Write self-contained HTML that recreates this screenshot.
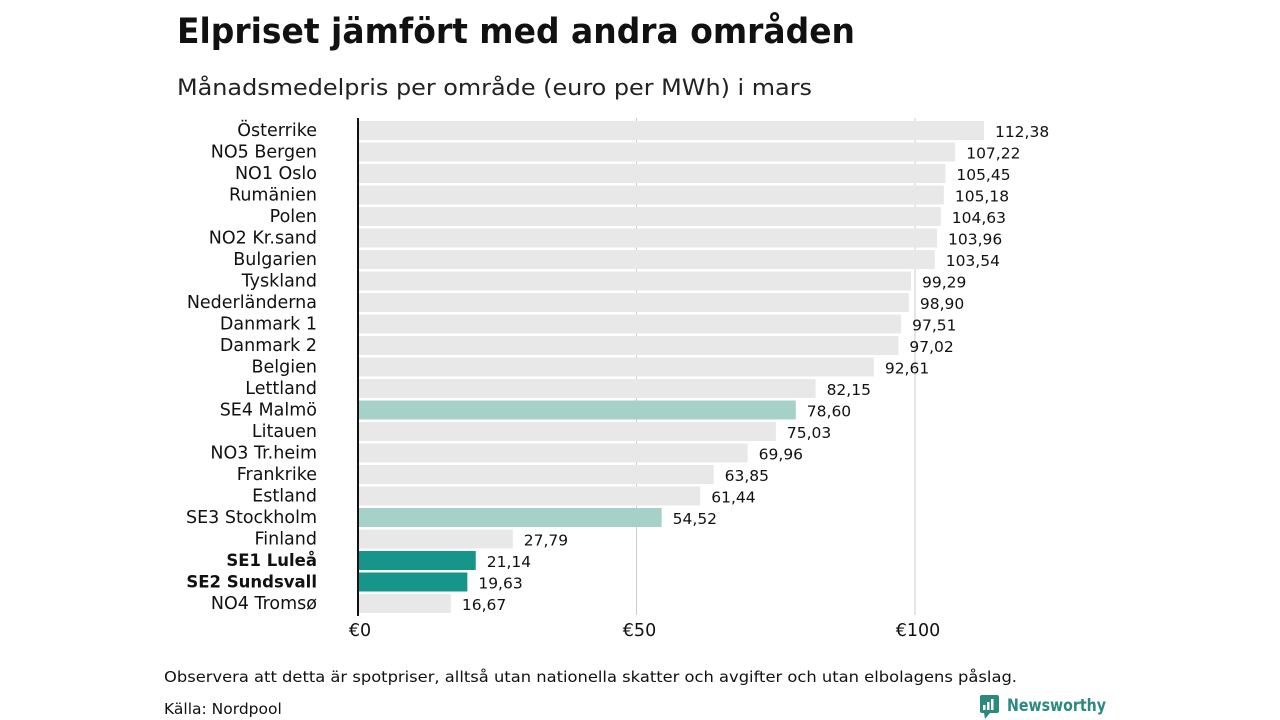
<!DOCTYPE html>
<html><head><meta charset="utf-8"><style>
body{margin:0;width:1280px;height:720px;background:#fff;overflow:hidden;font-family:"DejaVu Sans","Liberation Sans",sans-serif;}
svg{position:absolute;left:0;top:0}
</style></head><body>
<svg id="chart" width="1280" height="720">
<text x="177" y="43" font-size="35" font-weight="bold" fill="#111" textLength="678" lengthAdjust="spacingAndGlyphs">Elpriset jämfört med andra områden</text>
<text x="177" y="95" font-size="22" fill="#222" textLength="635" lengthAdjust="spacingAndGlyphs">Månadsmedelpris per område (euro per MWh) i mars</text>
<text x="164" y="682" font-size="15.5" fill="#111" textLength="853" lengthAdjust="spacingAndGlyphs">Observera att detta är spotpriser, alltså utan nationella skatter och avgifter och utan elbolagens påslag.</text>
<text x="164" y="714" font-size="15.5" fill="#111">Källa: Nordpool</text>
<g>
<rect x="980" y="695" width="19" height="18" rx="2" fill="#2a8a7e"/>
<polygon points="984,713 990,713 985,719" fill="#2a8a7e"/>
<rect x="983" y="705" width="2.5" height="5" fill="#fff"/><rect x="987" y="702" width="2.5" height="8" fill="#fff"/><rect x="991" y="699" width="2.5" height="11" fill="#fff"/>
<text x="1007" y="711" font-size="17" font-weight="bold" fill="#2a8a7e" textLength="99" lengthAdjust="spacingAndGlyphs">Newsworthy</text>
</g>
<g id="grid"></g><g id="bars"></g>
</svg>
<script>
const categories=["Österrike","NO5 Bergen","NO1 Oslo","Rumänien","Polen","NO2 Kr.sand","Bulgarien","Tyskland","Nederländerna","Danmark 1","Danmark 2","Belgien","Lettland","SE4 Malmö","Litauen","NO3 Tr.heim","Frankrike","Estland","SE3 Stockholm","Finland","SE1 Luleå","SE2 Sundsvall","NO4 Tromsø"];
const values=[112.38,107.22,105.45,105.18,104.63,103.96,103.54,99.29,98.90,97.51,97.02,92.61,82.15,78.60,75.03,69.96,63.85,61.44,54.52,27.79,21.14,19.63,16.67];
const highlight=["","","","","","","","","","","","","","light","","","","","light","","dark","dark",""];
const ticks=[0,50,100];
const tickLabels=["€0","€50","€100"];
const NS="http://www.w3.org/2000/svg";
const x=v=>358+v*5.57;
const y=i=>121+i*21.5;
function mk(t,a,p){const e=document.createElementNS(NS,t);for(const k in a)e.setAttribute(k,a[k]);p.appendChild(e);return e;}
const grid=document.getElementById('grid'),bars=document.getElementById('bars');
ticks.forEach((t,i)=>{
 if(t>0){const l=mk('line',{x1:x(t),x2:x(t),y1:118,y2:615,stroke:'#ccc','stroke-width':1},grid);
 
 }
 const tx=mk('text',{x:x(t)+(t==0?2:3),y:636,'font-size':17.5,'text-anchor':'middle',fill:'#111'},grid);
 tx.textContent=tickLabels[i];
 
 
});
categories.forEach((c,i)=>{
 const h=highlight[i];
 const fill=h=='dark'?'#16968a':h=='light'?'#a6d1c8':'#e8e8e8';
 const r=mk('rect',{x:x(0),y:y(i),width:x(values[i])-x(0),height:19,fill:fill},bars);
 
 
 const lb=mk('text',{x:317,y:y(i)+15,'font-size':h=='dark'?16.5:17.5,'font-weight':h=='dark'?'bold':'normal','text-anchor':'end',fill:'#111'},bars);
 lb.textContent=c;
 
 
 const vl=mk('text',{x:x(values[i])+11,y:y(i)+16,'font-size':15.5,fill:'#111'},bars);
 vl.textContent=values[i].toFixed(2).replace('.',',');
 
 
});
const ax=mk('line',{x1:358,x2:358,y1:118,y2:616,stroke:'#111','stroke-width':2},bars);


</script>
</body></html>
